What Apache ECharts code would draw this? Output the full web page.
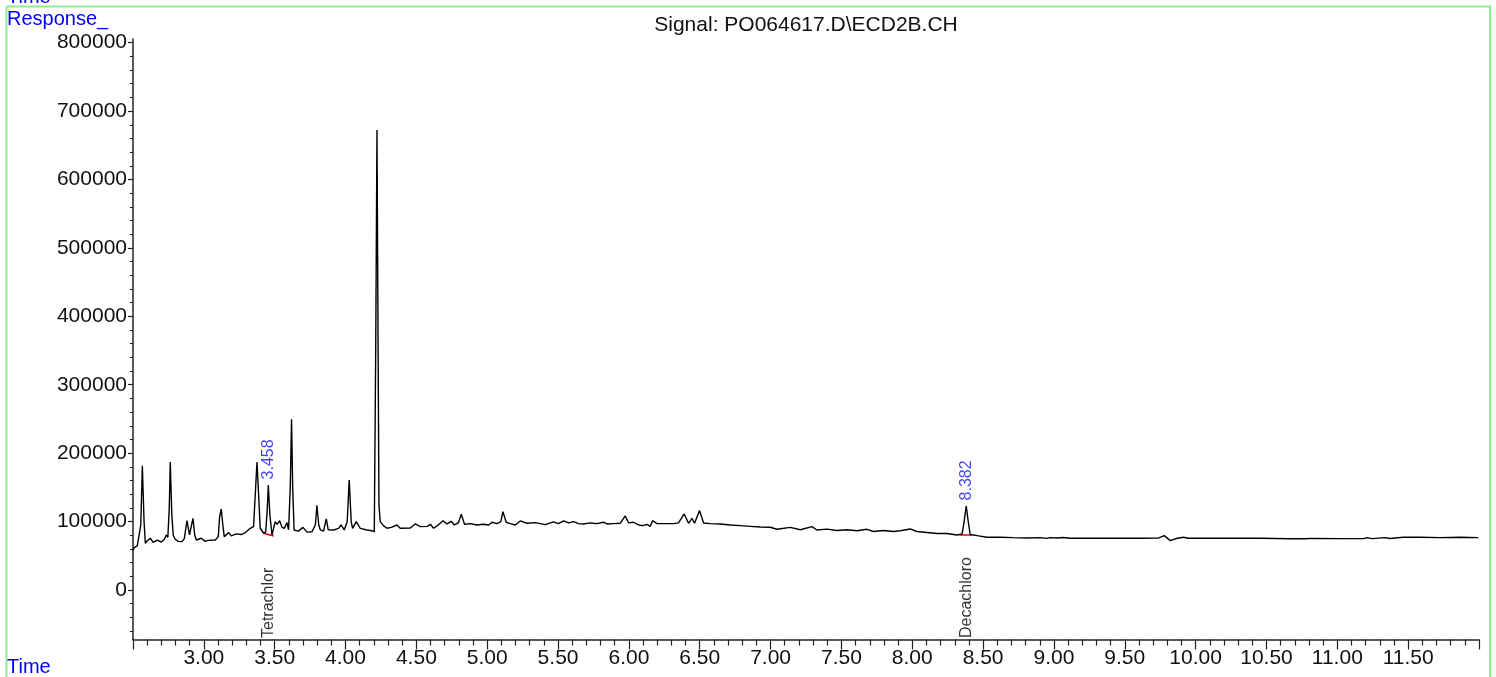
<!DOCTYPE html>
<html>
<head>
<meta charset="utf-8">
<script src="https://cdn.jsdelivr.net/npm/echarts@6/dist/echarts.min.js"></script>
<style>
html,body{margin:0;padding:0;background:#fff;}
#chart{width:1496px;height:677px;}
</style>
</head>
<body>
<div id="chart"></div>
<script>
const times = [2.500,2.509,2.530,2.544,2.555,2.566,2.578,2.587,2.601,2.622,2.643,2.671,2.700,2.721,2.735,2.746,2.756,2.763,2.774,2.784,2.798,2.819,2.846,2.862,2.881,2.899,2.923,2.936,2.947,2.982,3.010,3.031,3.081,3.102,3.111,3.123,3.134,3.144,3.175,3.194,3.229,3.264,3.293,3.328,3.351,3.363,3.375,3.384,3.398,3.422,3.437,3.448,3.455,3.466,3.481,3.504,3.518,3.535,3.551,3.568,3.587,3.598,3.610,3.619,3.627,3.637,3.667,3.700,3.728,3.763,3.787,3.798,3.811,3.822,3.845,3.864,3.878,3.916,3.951,3.968,3.991,4.012,4.026,4.040,4.050,4.076,4.104,4.151,4.187,4.203,4.213,4.222,4.230,4.236,4.245,4.269,4.293,4.323,4.363,4.386,4.457,4.492,4.528,4.577,4.599,4.621,4.648,4.688,4.716,4.746,4.768,4.796,4.817,4.840,4.882,4.928,4.972,5.010,5.034,5.069,5.096,5.111,5.134,5.163,5.198,5.233,5.281,5.339,5.374,5.409,5.468,5.503,5.539,5.574,5.609,5.645,5.680,5.727,5.775,5.821,5.845,5.892,5.939,5.974,5.998,6.033,6.068,6.099,6.127,6.151,6.167,6.198,6.245,6.315,6.350,6.390,6.421,6.445,6.463,6.499,6.527,6.574,6.645,6.716,6.786,6.857,6.928,6.998,7.045,7.139,7.210,7.292,7.327,7.398,7.468,7.539,7.609,7.680,7.726,7.797,7.868,7.915,7.985,8.033,8.103,8.174,8.245,8.315,8.352,8.366,8.381,8.395,8.409,8.468,8.527,8.621,8.712,8.809,8.903,8.945,8.973,9.021,9.065,9.115,9.186,9.327,9.468,9.609,9.736,9.779,9.821,9.871,9.914,9.947,10.173,10.455,10.667,10.773,10.785,10.808,11.020,11.189,11.208,11.246,11.337,11.372,11.465,11.585,11.726,11.868,11.995];
const responses = [57500,62000,64500,66000,95000,181700,100000,68300,72000,75600,69500,73000,70000,74000,80400,77000,120000,187100,110000,80000,74100,71000,70600,75000,101300,80400,104800,80000,73100,75600,71000,72500,73000,78000,106300,118400,95000,78000,83800,79000,82000,81000,84000,90200,92600,140000,187100,150000,90200,82900,85000,120000,153500,110000,80400,99900,96000,101300,92000,90000,98400,88000,150000,249500,150000,87700,86000,91500,84500,85000,95000,123800,95000,88000,86000,103800,88000,87700,90000,95000,87700,100000,160800,100000,90000,99900,90000,87700,86500,85200,350000,672500,350000,124000,99900,93600,90200,91500,95000,90200,90500,96500,92600,93000,96000,90200,94000,101300,96500,100400,95000,98000,110700,96000,97000,95000,96000,95000,99000,97000,100000,114500,99000,97000,95000,100900,97500,98500,97000,95500,99500,97000,100900,98000,100000,97000,96500,98000,97000,99000,96500,97000,97500,108200,98000,99000,95000,94000,96000,93000,101300,97000,97000,97000,98000,111100,97500,104800,97500,116000,98000,97000,96500,95000,94000,93000,92000,91700,88700,91500,88000,92600,87700,89000,87000,88000,86500,88700,85500,87000,85500,86500,89200,85500,84000,82500,82500,80400,82000,100000,122800,100000,81000,79000,77000,77000,76500,76000,76500,75500,76500,76000,76800,75600,75600,75600,75600,75600,75800,79400,72100,75600,77000,75600,75600,75600,74800,74800,76500,75200,75000,75000,76500,75000,76500,75200,77000,77000,76500,77000,76500];

const peakTimes = [3.458, 8.382];
const peakApex = [153500, 122800];
const peakLabels = ['3.458', '8.382'];
const compoundNames = ['Tetrachlor', 'Decachloro'];
const baseline1 = [[3.422, 82900], [3.493, 78900]];
const baseline2 = [[8.333, 80400], [8.421, 80400]];

const yTickLabels = [0,100000,200000,300000,400000,500000,600000,700000,800000];
const yMinorTicks = [];
for (let v = -60000; v <= 800000; v += 20000) yMinorTicks.push(v);
const xTickLabels = [3.0,3.5,4.0,4.5,5.0,5.5,6.0,6.5,7.0,7.5,8.0,8.5,9.0,9.5,10.0,10.5,11.0,11.5];

const X_MIN = 2.5, X_MAX = 12.0, Y_MIN = -72400, Y_MAX = 805400;
const FONT = 'Liberation Sans, Arial, sans-serif';

const chart = echarts.init(document.getElementById('chart'), null, {renderer: 'canvas'});
const trace = times.map((t, i) => [t, responses[i]]);

chart.setOption({
  animation: false,
  backgroundColor: '#fff',
  textStyle: {fontFamily: FONT},
  grid: {left: 133, right: 17, top: 39, bottom: 37.5, containLabel: false},
  graphic: [
    {type: 'rect', shape: {x: 6.5, y: 6.5, width: 1483.5, height: 720}, style: {fill: 'none', stroke: '#8ef08e', lineWidth: 2}, silent: true, z: -1},
    {type: 'text', left: 7, top: -13, style: {text: 'Time', fill: '#0000ff', font: '20px ' + FONT}},
    {type: 'text', left: 7, top: 9, style: {text: 'Response_', fill: '#0000ff', font: '20px ' + FONT}},
    {type: 'text', left: 7, top: 657, style: {text: 'Time', fill: '#0000ff', font: '20px ' + FONT}},
    {type: 'text', x: 806, y: 15, style: {text: 'Signal: PO064617.D\\ECD2B.CH', fill: '#111', font: '21px ' + FONT, textAlign: 'center'}}
  ],
  xAxis: {
    type: 'value', min: X_MIN, max: X_MAX, interval: 0.5,
    axisLine: {show: true, onZero: false, lineStyle: {color: '#222', width: 1.5}},
    axisTick: {show: true, length: 10, inside: false, lineStyle: {color: '#222', width: 1.2}},
    minorTick: {show: true, splitNumber: 5, length: 6, lineStyle: {color: '#222', width: 1.2}},
    splitLine: {show: false},
    minorSplitLine: {show: false},
    axisLabel: {
      customValues: xTickLabels,
      formatter: v => v.toFixed(2),
      color: '#111', fontSize: 21, fontFamily: FONT, margin: 8
    }
  },
  yAxis: [
    {
      type: 'value', min: Y_MIN, max: Y_MAX,
      axisLine: {show: true, onZero: false, lineStyle: {color: '#222', width: 1.5}},
      axisTick: {show: true, customValues: yTickLabels, length: 5, lineStyle: {color: '#222', width: 1.2}},
      splitLine: {show: false},
      axisLabel: {customValues: yTickLabels, formatter: v => String(v), color: '#111', fontSize: 21, fontFamily: FONT, margin: 6}
    },
    {
      type: 'value', min: Y_MIN, max: Y_MAX, position: 'left', offset: 0,
      axisLine: {show: false, onZero: false},
      axisTick: {show: true, customValues: yMinorTicks, length: 3, lineStyle: {color: '#222', width: 1}},
      axisLabel: {show: false},
      splitLine: {show: false}
    }
  ],
  series: [
    {
      type: 'line', data: trace, symbol: 'none', silent: true,
      lineStyle: {color: '#000', width: 1.4}, z: 3
    },
    {
      type: 'line', data: baseline1, symbol: 'none', silent: true,
      lineStyle: {color: '#e00000', width: 1.5}, z: 2
    },
    {
      type: 'line', data: baseline2, symbol: 'none', silent: true,
      lineStyle: {color: '#e00000', width: 1.5}, z: 2
    },
    {
      type: 'scatter', silent: true, symbolSize: 1,
      itemStyle: {color: 'rgba(0,0,0,0)'},
      data: peakTimes.map((t, i) => ({value: [t, peakApex[i]], name: peakLabels[i]})),
      label: {
        show: true, position: 'top', distance: 5, rotate: 90,
        align: 'left', verticalAlign: 'middle',
        formatter: p => p.name, color: '#1010ff', fontSize: 16, fontFamily: FONT
      }
    },
    {
      type: 'scatter', silent: true, symbolSize: 1, clip: false,
      itemStyle: {color: 'rgba(0,0,0,0)'},
      data: peakTimes.map((t, i) => ({value: [t, Y_MIN], name: compoundNames[i]})),
      label: {
        show: true, position: 'top', distance: 1, rotate: 90,
        align: 'left', verticalAlign: 'middle',
        formatter: p => p.name, color: '#000', fontSize: 16, fontFamily: FONT
      }
    }
  ]
});
</script>
</body>
</html>
